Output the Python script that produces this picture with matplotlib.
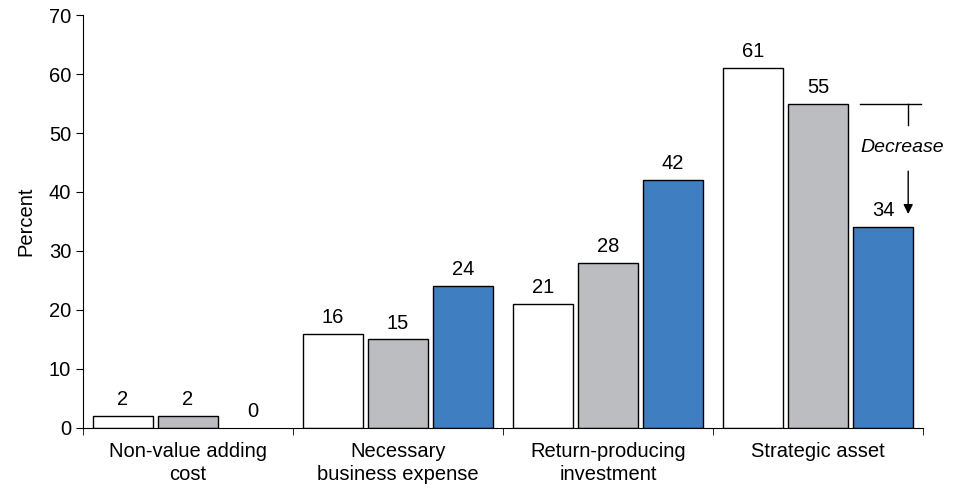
import numpy as np
import matplotlib
matplotlib.use("Agg")
import matplotlib.pyplot as plt

plt.rcParams['font.family'] = ['Liberation Sans Narrow', 'Liberation Sans', 'DejaVu Sans']

categories = ["Non-value adding\ncost", "Necessary\nbusiness expense",
              "Return-producing\ninvestment", "Strategic asset"]
series_white = [2, 16, 21, 61]
series_gray = [2, 15, 28, 55]
series_blue = [0, 24, 42, 34]
colors = ["white", "#bcbdc1", "#3f7fc1"]
FS = 14.5

fig = plt.figure(figsize=(9.54, 4.93), dpi=100)
ax = fig.add_axes([0.087, 0.132, 0.8805, 0.8375])

x = np.arange(len(categories))
w = 60 / 210
step = 65 / 210
for i, (vals, c) in enumerate(zip([series_white, series_gray, series_blue], colors)):
    bars = ax.bar(x + (i - 1) * step, vals, width=w, color=c,
                  edgecolor="black", linewidth=1.0)
    # zero-height bars get no outline
    for b, v in zip(bars, vals):
        if v == 0:
            b.set_edgecolor("none")
    ax.bar_label(bars, labels=[str(v) for v in vals], padding=5, fontsize=FS)

ax.set_xlim(-0.5, len(categories) - 0.5)
ax.set_ylim(0, 70)
ax.set_yticks(range(0, 71, 10))
ax.set_ylabel("Percent", fontsize=FS, labelpad=10)
ax.set_xticks(x)
ax.set_xticklabels(categories, fontsize=FS, linespacing=1.3)
ax.set_xticks(np.arange(-0.5, len(categories)), minor=True)
ax.tick_params(axis="x", which="major", length=0, pad=10)
ax.tick_params(axis="x", which="minor", length=5, direction="out")
ax.tick_params(axis="y", labelsize=FS, length=5)
ax.spines["top"].set_visible(False)
ax.spines["right"].set_visible(False)

# "Decrease" annotation from the gray to the blue bar of the last group
xl = x[-1] + step
ax.plot([x[-1] + 0.2, x[-1] + 0.49], [series_gray[-1]] * 2,
        color="black", lw=1.0)
ax.plot([xl + 0.12, xl + 0.12], [series_gray[-1], 51.3], color="black", lw=1.0)
ax.text(xl + 0.09, 47.5, "Decrease", style="italic", fontsize=FS - 0.5,
        ha="center", va="center")
ax.annotate("", xy=(xl + 0.12, series_blue[-1] + 1.8), xytext=(xl + 0.12, 44),
            arrowprops=dict(arrowstyle="-|>", color="black", lw=1.0,
                            mutation_scale=14))

fig.savefig("out.png", dpi=100)
